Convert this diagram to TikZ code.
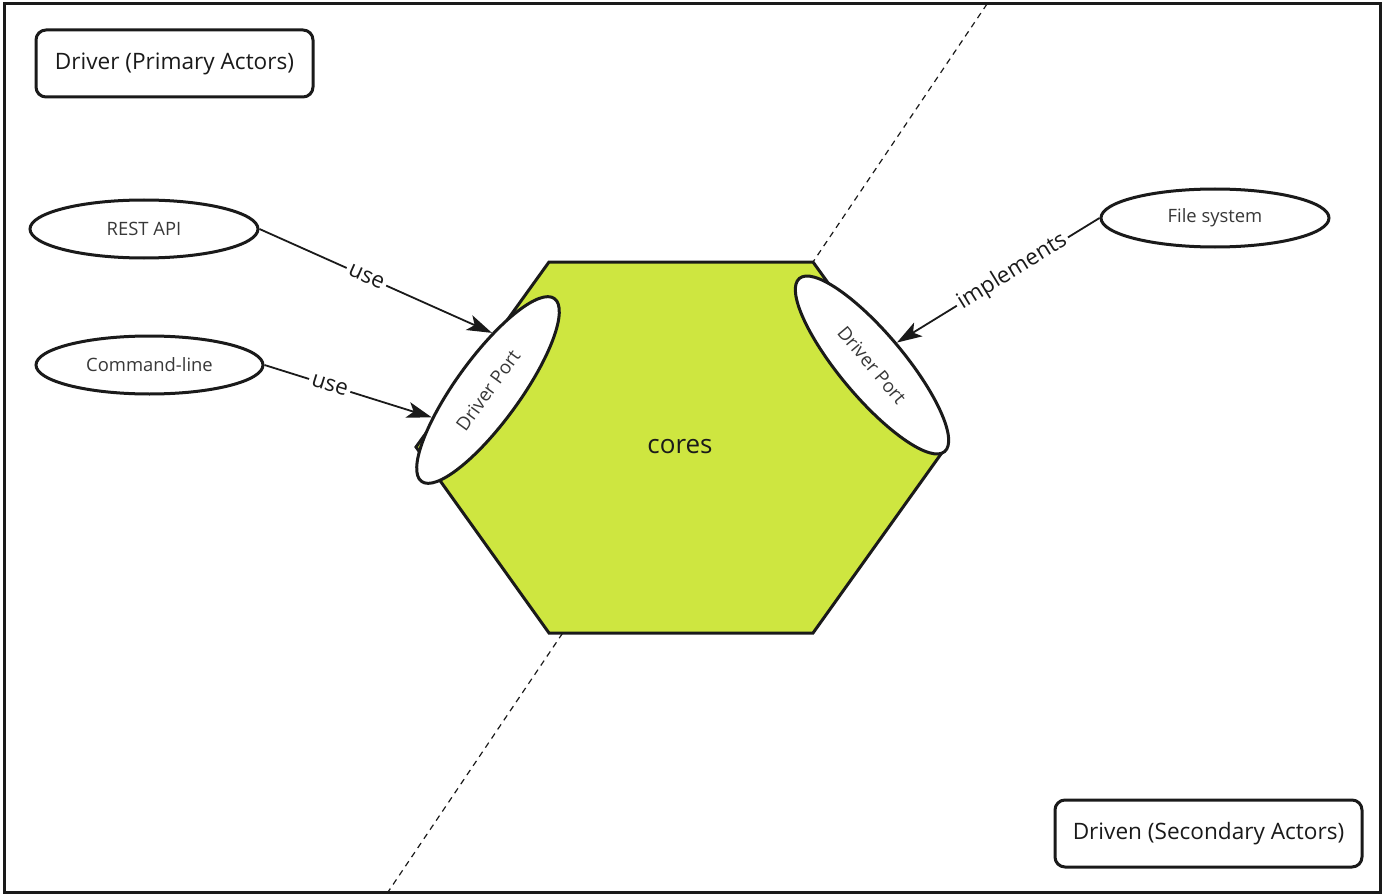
\documentclass[tikz,border=0pt]{standalone}
\usepackage{fontspec}
\setmainfont{Open Sans}
\usetikzlibrary{shapes.geometric,arrows.meta}
\definecolor{hexfill}{RGB}{206,230,64}
\definecolor{ink}{RGB}{26,26,26}
\definecolor{txtgrey}{RGB}{56,56,56}
\tikzset{
  frame/.style={draw=ink, line width=3pt},
  titlebox/.style={draw=ink, line width=3pt, rounded corners=10pt, fill=white,
    minimum height=67pt, inner sep=0pt, text=ink, font=\fontsize{22.6}{27}\selectfont},
  actor/.style={draw=ink, ellipse, line width=3pt, fill=white, inner sep=0pt,
    minimum width=228pt, minimum height=58pt, text=txtgrey, font=\fontsize{18.4}{22}\selectfont},
  port/.style={draw=ink, ellipse, line width=3pt, fill=white, inner sep=0pt,
    minimum width=226pt, minimum height=64pt, text=txtgrey, font=\fontsize{18.6}{22}\selectfont},
  conn/.style={draw=ink, line width=1.8pt, -{Stealth[length=25pt,width=16pt,inset=6pt]}},
  connlabel/.style={fill=white, sloped, inner sep=3pt, text=ink, font=\fontsize{22.4}{27}\selectfont},
  divider/.style={draw=ink, line width=1.2pt, dash pattern=on 6pt off 5pt},
}
\begin{document}
\begin{tikzpicture}[x=1pt,y=-1pt]
\useasboundingbox (0,0) rectangle (1384,896);
% outer frame
\draw[frame] (4,4) rectangle (1380,892);
% divider line
\coordinate (dtop) at (987,4);
\coordinate (dbot) at (388,892);
\draw[divider] (dtop) -- (dbot);
% hexagon core
\draw[draw=ink, line width=3pt, fill=hexfill, line join=miter]
  (416,447) -- (549,262) -- (813,262) -- (946,447) -- (813,633) -- (549,633) -- cycle;
\node[text=ink, font=\fontsize{26}{31}\selectfont] (cores) at (680,447) {cores};
% ports
\node[port, rotate=54] (portL) at (488,390) {Driver Port};
\node[port, rotate=-50] (portR) at (872,365) {Driver Port};
% title boxes
\node[titlebox, minimum width=277pt] (driver) at (174.5,63.5) {Driver (Primary Actors)};
\node[titlebox, minimum width=307pt] (driven) at (1208.5,833.5) {Driven (Secondary Actors)};
% actors
\node[actor] (rest) at (144,229) {REST API};
\node[actor, minimum width=227pt] (cli) at (149.5,365) {Command-line};
\node[actor] (fs) at (1215,218) {File system};
% connectors
\draw[conn] (rest.east) -- node[connlabel, pos=0.46] {use} (portL.32);
\draw[conn] (cli.east) -- node[connlabel, pos=0.39] {use} (portL.152);
\draw[conn] (fs.west) -- node[connlabel, pos=0.43] {implements} (portR.92);
\end{tikzpicture}
\end{document}
